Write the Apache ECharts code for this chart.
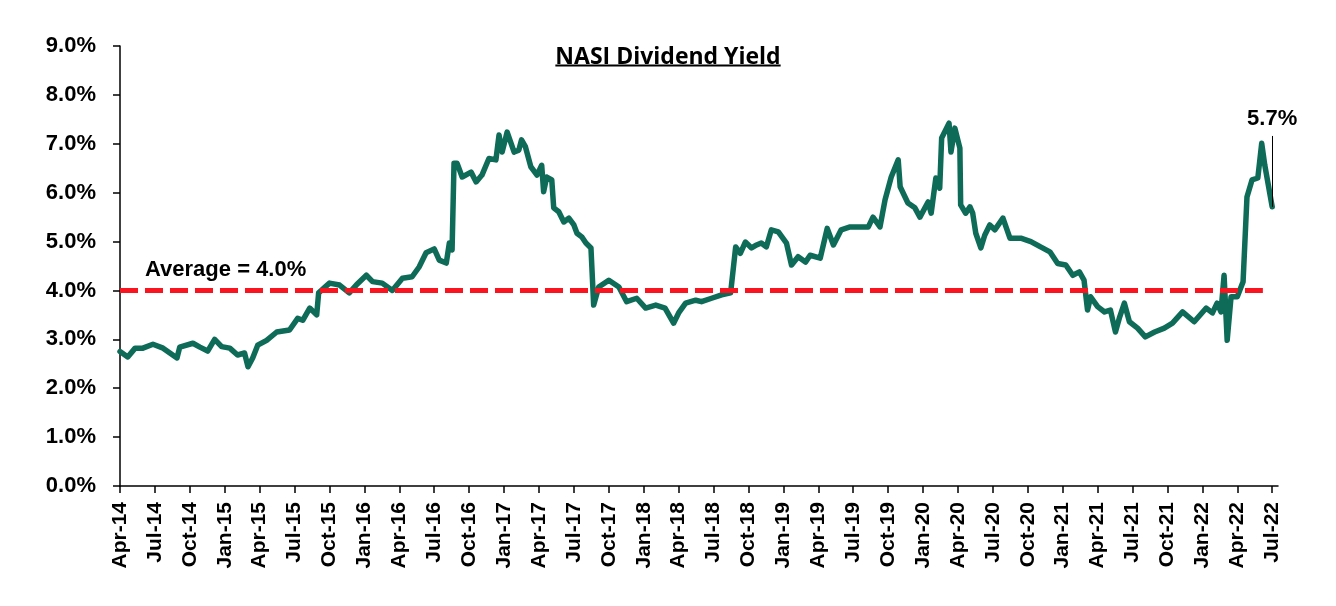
<!DOCTYPE html>
<html><head><meta charset="utf-8">
<script src="https://cdn.jsdelivr.net/npm/echarts@6/dist/echarts.min.js"></script>
<style>html,body{margin:0;padding:0;background:#fff}#c{width:1336px;height:606px}</style>
</head><body><div id="c"></div>
<script>
const titleText = 'NASI Dividend Yield';
const dates = ['2014-04-01','2014-04-21','2014-05-10','2014-05-30','2014-06-26','2014-07-22','2014-08-28','2014-09-05','2014-10-09','2014-10-27','2014-11-17','2014-12-05','2014-12-23','2015-01-14','2015-02-04','2015-02-22','2015-03-01','2015-03-13','2015-03-26','2015-04-19','2015-05-15','2015-06-18','2015-07-09','2015-07-22','2015-08-10','2015-08-28','2015-09-03','2015-10-01','2015-10-27','2015-11-22','2015-12-10','2016-01-06','2016-01-22','2016-02-17','2016-03-13','2016-04-09','2016-05-04','2016-05-22','2016-06-10','2016-07-01','2016-07-14','2016-08-02','2016-08-10','2016-08-17','2016-08-22','2016-08-30','2016-09-13','2016-10-06','2016-10-19','2016-11-04','2016-11-22','2016-12-10','2016-12-18','2016-12-26','2017-01-09','2017-01-27','2017-02-09','2017-02-16','2017-02-26','2017-03-10','2017-03-26','2017-04-08','2017-04-13','2017-04-21','2017-05-04','2017-05-09','2017-05-22','2017-06-05','2017-06-18','2017-07-01','2017-07-09','2017-07-22','2017-08-02','2017-08-15','2017-08-22','2017-09-05','2017-10-01','2017-10-27','2017-11-17','2017-12-13','2018-01-06','2018-02-02','2018-02-26','2018-03-18','2018-04-01','2018-04-19','2018-05-15','2018-05-30','2018-06-26','2018-07-22','2018-08-15','2018-08-28','2018-09-10','2018-09-23','2018-10-09','2018-10-22','2018-11-04','2018-11-17','2018-11-30','2018-12-18','2019-01-09','2019-01-22','2019-02-09','2019-02-28','2019-03-10','2019-04-06','2019-04-24','2019-05-10','2019-05-30','2019-06-23','2019-08-10','2019-08-22','2019-09-10','2019-09-23','2019-10-09','2019-10-27','2019-11-02','2019-11-22','2019-12-10','2019-12-23','2020-01-14','2020-01-22','2020-02-04','2020-02-14','2020-02-19','2020-03-08','2020-03-13','2020-03-23','2020-04-06','2020-04-08','2020-04-21','2020-05-02','2020-05-09','2020-05-17','2020-05-30','2020-06-10','2020-06-23','2020-07-06','2020-07-27','2020-08-15','2020-09-13','2020-10-09','2020-11-04','2020-11-28','2020-12-18','2021-01-09','2021-01-27','2021-02-14','2021-02-26','2021-03-05','2021-03-13','2021-04-01','2021-04-19','2021-05-04','2021-05-17','2021-05-28','2021-06-10','2021-06-23','2021-07-14','2021-08-04','2021-08-28','2021-09-23','2021-10-14','2021-11-10','2021-12-10','2022-01-11','2022-01-27','2022-02-09','2022-02-19','2022-02-27','2022-03-05','2022-03-15','2022-03-31','2022-04-16','2022-04-26','2022-05-09','2022-05-24','2022-06-04','2022-06-12','2022-07-01'];
const yields = [2.75,2.64,2.82,2.82,2.90,2.82,2.62,2.84,2.92,2.84,2.76,3.00,2.85,2.82,2.68,2.72,2.44,2.62,2.88,2.98,3.15,3.19,3.43,3.39,3.64,3.50,3.95,4.15,4.11,3.95,4.11,4.31,4.18,4.15,4.00,4.25,4.28,4.48,4.77,4.85,4.62,4.56,4.97,4.83,6.60,6.60,6.32,6.42,6.22,6.36,6.70,6.67,7.18,6.83,7.24,6.83,6.87,7.08,6.94,6.53,6.36,6.56,6.02,6.32,6.26,5.69,5.61,5.40,5.48,5.34,5.17,5.09,4.97,4.87,3.70,4.07,4.21,4.07,3.77,3.84,3.64,3.70,3.64,3.33,3.54,3.74,3.80,3.77,3.84,3.91,3.95,4.89,4.76,4.99,4.87,4.93,4.97,4.89,5.24,5.20,4.97,4.52,4.69,4.58,4.72,4.66,5.27,4.93,5.24,5.30,5.30,5.50,5.30,5.85,6.32,6.67,6.12,5.79,5.69,5.50,5.81,5.58,6.30,6.09,7.12,7.42,6.83,7.32,6.91,5.75,5.58,5.71,5.58,5.17,4.87,5.13,5.34,5.24,5.48,5.07,5.07,5.00,4.89,4.79,4.55,4.52,4.31,4.38,4.21,3.60,3.87,3.67,3.56,3.60,3.15,3.46,3.74,3.36,3.23,3.05,3.15,3.23,3.33,3.56,3.36,3.64,3.54,3.74,3.56,4.31,2.98,3.87,3.87,4.18,5.91,6.26,6.30,7.01,6.56,5.71];
const tickLabels = ['Apr-14','Jul-14','Oct-14','Jan-15','Apr-15','Jul-15','Oct-15','Jan-16','Apr-16','Jul-16','Oct-16','Jan-17','Apr-17','Jul-17','Oct-17','Jan-18','Apr-18','Jul-18','Oct-18','Jan-19','Apr-19','Jul-19','Oct-19','Jan-20','Apr-20','Jul-20','Oct-20','Jan-21','Apr-21','Jul-21','Oct-21','Jan-22','Apr-22','Jul-22'];
const yTickMax = 9;
const averageYield = 4.0;
const averageStart = '2014-04-01';
const averageEnd = '2022-06-07';

function toM(s){ const p = s.split('-').map(Number); return (p[0]-2014)*12 + (p[1]-4) + (p[2]-1)/30; }
const seriesData = dates.map((d,i)=>[toM(d), yields[i]]);
const last = seriesData[seriesData.length-1];
const tickVals = tickLabels.map((_, i) => i*3);

const FONT = 'Liberation Sans';
const TFONT = 'bold 23px "Open Sans"';
const ctx = document.createElement('canvas').getContext('2d');
ctx.font = TFONT;
const tw = ctx.measureText(titleText).width;

const chart = echarts.init(document.getElementById('c'));
chart.setOption({
  animation: false,
  backgroundColor: '#fff',
  grid: {left:120, right:58, top:46, bottom:120},
  graphic: [{
    type:'group', left:'center', top:46,
    children:[
      {type:'text', x:0, y:0, style:{text:titleText, font:TFONT, fill:'#000', textVerticalAlign:'top'}},
      {type:'rect', shape:{x:0, y:18.5, width:tw, height:2}, style:{fill:'#000'}}
    ]
  }],
  xAxis: {
    type:'value', min:0, max:99.5,
    axisLine:{show:true, lineStyle:{color:'#000', width:1.5}},
    axisTick:{show:true, customValues:tickVals, length:7, lineStyle:{color:'#000', width:1.5}},
    axisLabel:{customValues:tickVals, rotate:90, margin:16, formatter:v=>tickLabels[Math.round(v/3)],
      fontFamily:FONT, fontWeight:'bold', fontSize:21, color:'#000'},
    splitLine:{show:false}
  },
  yAxis: {
    type:'value', min:0, max:yTickMax, interval:1,
    axisLine:{show:true, lineStyle:{color:'#000', width:1.5}},
    axisTick:{show:true, length:7, lineStyle:{color:'#000', width:1.5}},
    axisLabel:{formatter:v=>v.toFixed(1)+'%', margin:24, fontFamily:FONT, fontWeight:'bold', fontSize:22, color:'#000'},
    splitLine:{show:false}
  },
  series: [{
    type:'line', name:titleText, data:seriesData, showSymbol:false, symbol:'none',
    lineStyle:{color:'#0d6b57', width:5.5, join:'round', cap:'round'},
    itemStyle:{color:'#0d6b57'},
    markLine:{
      silent:true, symbol:['none','none'], animation:false,
      data:[
        [{coord:[toM(averageStart), averageYield],
          lineStyle:{color:'#fa1420', width:5, type:[18,7]},
          label:{show:true, position:'insideStartTop', formatter:'Average = '+averageYield.toFixed(1)+'%',
            fontFamily:FONT, fontWeight:'bold', fontSize:22, color:'#000', distance:10, padding:[0,0,0,15]}},
         {coord:[toM(averageEnd), averageYield]}],
        [{coord:[last[0], last[1]],
          lineStyle:{color:'#000', width:1, type:'solid'},
          label:{show:true, position:'end', formatter:last[1].toFixed(1)+'%',
            fontFamily:FONT, fontWeight:'bold', fontSize:22, color:'#000', distance:6}},
         {coord:[last[0], last[1]+1.45]}]
      ]
    }
  }]
});
</script>
</body></html>
